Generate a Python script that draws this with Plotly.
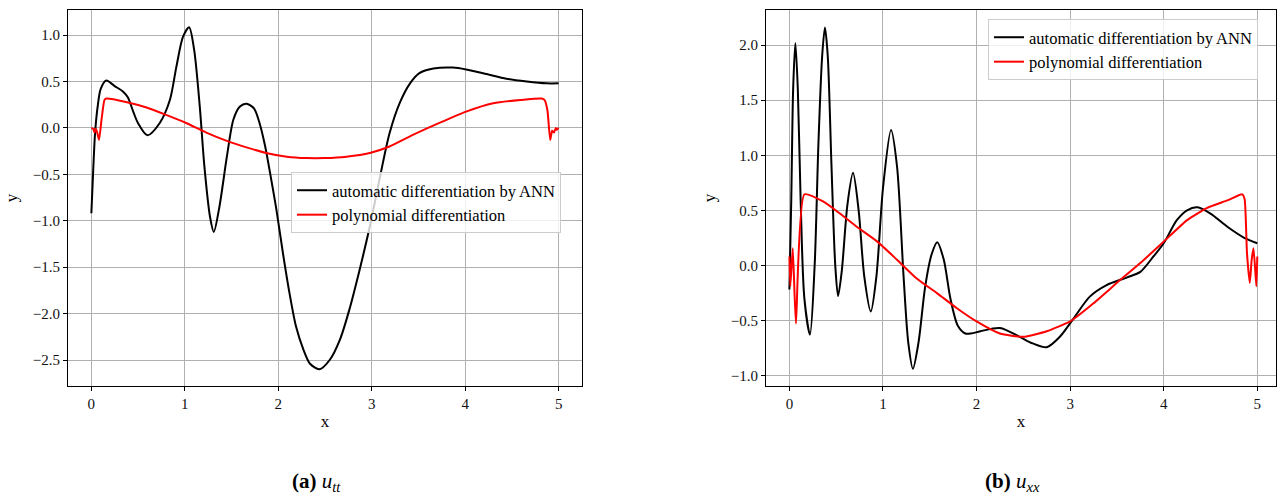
import plotly.graph_objects as go

# ---- data ----
ann_a_x = [0, 0.02, 0.04, 0.07, 0.1, 0.16, 0.25, 0.34, 0.39, 0.45, 0.5, 0.6, 0.73, 0.84, 0.91, 0.98,
           1.046, 1.1, 1.16, 1.21, 1.27, 1.31, 1.37, 1.45, 1.52, 1.59, 1.66, 1.74, 1.80, 1.86, 1.92, 1.98,
           2.05, 2.12, 2.19, 2.27, 2.34, 2.44, 2.55, 2.66, 2.76, 2.87, 2.98, 3.09, 3.19, 3.30, 3.41,
           3.51, 3.66, 3.87, 4.01, 4.23, 4.44, 4.66, 4.87, 5.0]
ann_a_y = [-0.92, -0.45, -0.05, 0.25, 0.42, 0.51, 0.45, 0.39, 0.33, 0.17, 0.05, -0.08, 0.05, 0.30, 0.66, 0.98,
           1.085, 0.84, 0.23, -0.42, -0.96, -1.12, -0.85, -0.31, 0.09, 0.23, 0.26, 0.21, 0.05, -0.20, -0.53, -0.88,
           -1.35, -1.78, -2.14, -2.39, -2.54, -2.60, -2.50, -2.28, -1.96, -1.53, -1.06, -0.52, -0.06, 0.27, 0.48,
           0.59, 0.64, 0.65, 0.63, 0.58, 0.53, 0.50, 0.48, 0.48]

poly_a_x = [0, 0.02, 0.035, 0.045, 0.06, 0.082, 0.11, 0.14, 0.16, 0.37, 0.59, 0.80, 1.02, 1.23, 1.45, 1.66,
            1.87, 2.09, 2.30, 2.5, 2.73, 2.98, 3.19, 3.44, 3.73, 4.01, 4.30, 4.59, 4.82, 4.85, 4.88, 4.91,
            4.93, 4.95, 4.97, 4.98, 5.0]
poly_a_y = [0, -0.01, -0.05, -0.01, -0.04, -0.13, 0.1, 0.30, 0.316, 0.28, 0.22, 0.14, 0.05, -0.05, -0.14, -0.21,
            -0.27, -0.31, -0.325, -0.325, -0.31, -0.27, -0.20, -0.075, 0.057, 0.176, 0.266, 0.30, 0.316, 0.30, 0.19, -0.13,
            -0.03, -0.05, 0.0, -0.02, 0.0]

ann_b_x = [0, 0.02, 0.04, 0.064, 0.09, 0.12, 0.16, 0.22, 0.27, 0.31, 0.35, 0.38, 0.41, 0.45, 0.49, 0.52,
           0.56, 0.62, 0.68, 0.74, 0.80, 0.87, 0.93, 1.0, 1.086, 1.15, 1.22, 1.27, 1.32, 1.38, 1.45, 1.52,
           1.58, 1.65, 1.72, 1.8, 1.88, 1.94, 2.04, 2.25, 2.46, 2.6, 2.75, 2.89, 3.04, 3.21, 3.39, 3.61,
           3.75, 3.89, 4.0, 4.14, 4.25, 4.36, 4.5, 4.68, 4.86, 5.0]
ann_b_y = [-0.22, 0.6, 1.6, 2.02, 1.6, 0.6, -0.3, -0.63, 0.0, 1.1, 1.9, 2.16, 1.9, 0.9, 0.0, -0.28,
           -0.05, 0.55, 0.84, 0.5, -0.1, -0.42, -0.1, 0.7, 1.23, 0.9, -0.1, -0.7, -0.94, -0.7, -0.2, 0.1,
           0.21, 0.05, -0.3, -0.55, -0.62, -0.62, -0.60, -0.57, -0.65, -0.71, -0.745, -0.65, -0.48, -0.285, -0.18, -0.11,
           -0.06, 0.08, 0.2, 0.41, 0.50, 0.527, 0.47, 0.35, 0.25, 0.20]

poly_b_x = [0, 0.01, 0.036, 0.07, 0.16, 0.36, 0.54, 0.72, 0.94, 1.15, 1.36, 1.58, 1.79, 2.0, 2.25, 2.5,
            2.75, 3.0, 3.25, 3.54, 3.75, 4.0, 4.25, 4.46, 4.68, 4.84, 4.865, 4.89, 4.92, 4.94, 4.96, 4.99, 5.0]
poly_b_y = [0.08, -0.19, 0.155, -0.53, 0.645, 0.58, 0.47, 0.35, 0.215, 0.05, -0.12, -0.255, -0.39, -0.51, -0.62, -0.65,
            -0.60, -0.51, -0.345, -0.13, 0.02, 0.215, 0.41, 0.52, 0.59, 0.645, 0.6, 0.11, -0.16, 0.05, 0.155, -0.19, 0.08]

x_ticks = [0, 1, 2, 3, 4, 5]
y_ticks_a = [-2.5, -2.0, -1.5, -1.0, -0.5, 0.0, 0.5, 1.0]
y_ticks_b = [-1.0, -0.5, 0.0, 0.5, 1.0, 1.5, 2.0]
label_ann = "automatic differentiation by ANN"
label_poly = "polynomial differentiation"

W, H = 1277, 496
FONT = "Liberation Serif"

fig = go.Figure()
fig.add_trace(go.Scatter(x=ann_a_x, y=ann_a_y, mode="lines", name=label_ann,
                         line=dict(color="black", width=2, shape="spline", smoothing=0.8),
                         xaxis="x", yaxis="y", legend="legend"))
fig.add_trace(go.Scatter(x=poly_a_x, y=poly_a_y, mode="lines", name=label_poly,
                         line=dict(color="#ff0000", width=2, shape="spline", smoothing=0.5),
                         xaxis="x", yaxis="y", legend="legend"))
fig.add_trace(go.Scatter(x=ann_b_x, y=ann_b_y, mode="lines", name=label_ann,
                         line=dict(color="black", width=2, shape="spline", smoothing=0.8),
                         xaxis="x2", yaxis="y2", legend="legend2"))
fig.add_trace(go.Scatter(x=poly_b_x, y=poly_b_y, mode="lines", name=label_poly,
                         line=dict(color="#ff0000", width=2, shape="spline", smoothing=0.5),
                         xaxis="x2", yaxis="y2", legend="legend2"))

ydom = [1 - 386 / H, 1 - 10 / H]
axis_common = dict(showline=True, linecolor="black", linewidth=1, mirror=True,
                   ticks="outside", ticklen=4, tickcolor="black", tickwidth=1,
                   showgrid=True, gridcolor="#b0b0b0", gridwidth=1, zeroline=False,
                   tickfont=dict(family=FONT, size=15, color="#111"))

fig.update_layout(
    width=W, height=H, margin=dict(l=0, r=0, t=0, b=0),
    paper_bgcolor="white", plot_bgcolor="white",
    font=dict(family=FONT, color="black"),
    xaxis=dict(domain=[68 / W, 582 / W], range=[-0.25, 5.25], anchor="y",
               tickvals=x_ticks, ticktext=[str(t) for t in x_ticks],
               title=dict(text="x", font=dict(family=FONT, size=17), standoff=4), **axis_common),
    yaxis=dict(domain=ydom, range=[-2.78, 1.27], anchor="x",
               tickvals=y_ticks_a, ticktext=[f"{t:.1f}".replace("-", "\u2212") for t in y_ticks_a],
               title=dict(text="y", font=dict(family=FONT, size=17), standoff=10), **axis_common),
    xaxis2=dict(domain=[766 / W, 1276 / W], range=[-0.25, 5.2], anchor="y2",
                tickvals=x_ticks, ticktext=[str(t) for t in x_ticks],
                title=dict(text="x", font=dict(family=FONT, size=17), standoff=4), **axis_common),
    yaxis2=dict(domain=ydom, range=[-1.097, 2.32], anchor="x2",
                tickvals=y_ticks_b, ticktext=[f"{t:.1f}".replace("-", "\u2212") for t in y_ticks_b],
                title=dict(text="y", font=dict(family=FONT, size=17), standoff=10), **axis_common),
    legend=dict(x=291 / W, y=1 - 172 / H, xanchor="left", yanchor="top",
                bgcolor="rgba(255,255,255,0.8)", bordercolor="#cccccc", borderwidth=1,
                font=dict(family=FONT, size=16.5, color="black"), tracegroupgap=0,
                itemwidth=30),
    legend2=dict(x=988 / W, y=1 - 19 / H, xanchor="left", yanchor="top",
                 bgcolor="rgba(255,255,255,0.8)", bordercolor="#cccccc", borderwidth=1,
                 font=dict(family=FONT, size=16.5, color="black"), tracegroupgap=0,
                 itemwidth=30),
    showlegend=True,
)

fig.add_annotation(text="<b>(a)</b> <i>u</i><sub><i>tt</i></sub>", x=316 / W, y=1 - 482 / H,
                   xref="paper", yref="paper", showarrow=False, xanchor="center", yanchor="middle",
                   font=dict(family=FONT, size=21, color="black"))
fig.add_annotation(text="<b>(b)</b> <i>u</i><sub><i>xx</i></sub>", x=1013 / W, y=1 - 482 / H,
                   xref="paper", yref="paper", showarrow=False, xanchor="center", yanchor="middle",
                   font=dict(family=FONT, size=21, color="black"))

fig.write_html("out.html")
